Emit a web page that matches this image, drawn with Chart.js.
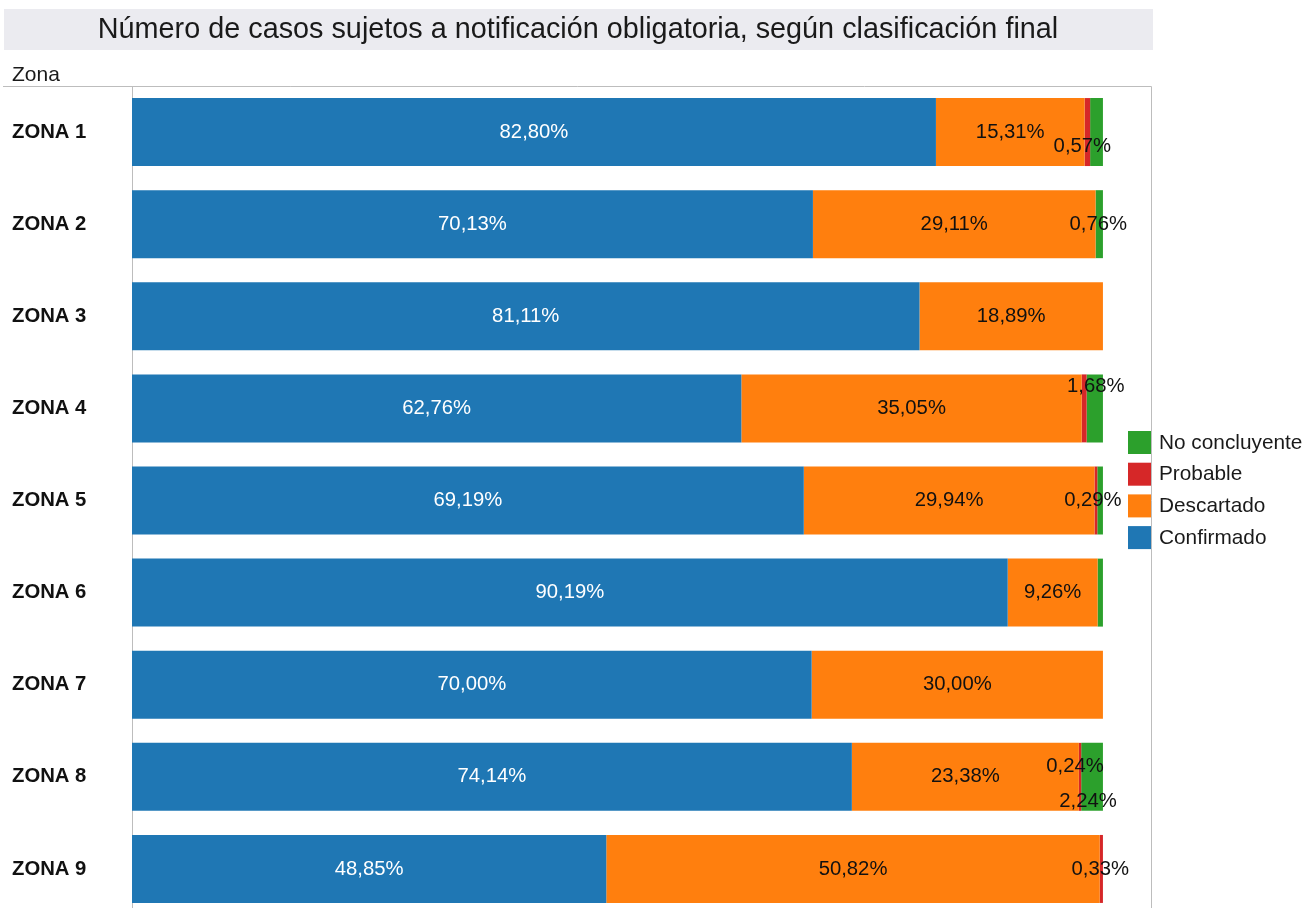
<!DOCTYPE html>
<html>
<head>
<meta charset="utf-8">
<script src="https://cdn.jsdelivr.net/npm/chart.js@4"></script>
<style>
  html, body { margin: 0; padding: 0; background: #fff; overflow: hidden; }
  #wrap { width: 1304px; height: 908px; position: relative; overflow: hidden; }
  #zonas { display: block; }
</style>
</head>
<body>
<div id="wrap"><canvas id="zonas" width="1304" height="915"></canvas></div>
<script>
const zonas = ['ZONA 1', 'ZONA 2', 'ZONA 3', 'ZONA 4', 'ZONA 5', 'ZONA 6', 'ZONA 7', 'ZONA 8', 'ZONA 9'];

const confirmado     = [82.80, 70.13, 81.11, 62.76, 69.19, 90.19, 70.00, 74.14, 48.85];
const descartado     = [15.31, 29.11, 18.89, 35.05, 29.94,  9.26, 30.00, 23.38, 50.82];
const probable       = [ 0.57,  0,     0,     0.51,  0.29,  0,     0,     0.24,  0.33];
const noConcluyente  = [ 1.32,  0.76,  0,     1.68,  0.58,  0.55,  0,     2.24,  0   ];

const titulo = 'Número de casos sujetos a notificación obligatoria, según clasificación final';

// where tableau put the labels of the small segments: [dataset, zona, dx, dy]
const smallLabels = [
  [2, 0, -5, 14],
  [3, 1, -1, 0],
  [3, 3, 1, -22],
  [2, 4, -3, 0],
  [2, 7, -5, -10],
  [3, 7, -4, 25],
  [2, 8, -1, 0]
];

const FONT = '"Liberation Sans", Arial, sans-serif';

function fmt(v) {
  return v.toFixed(2).replace('.', ',') + '%';
}

const decor = {
  id: 'decor',
  beforeDraw(chart) {
    const ctx = chart.ctx;
    const a = chart.chartArea;
    ctx.save();
    // title box
    ctx.fillStyle = '#ebebf0';
    ctx.fillRect(4, 9, 1149, 41);
    ctx.fillStyle = '#1a1a1a';
    ctx.font = '28.8px ' + FONT;
    ctx.textAlign = 'center';
    ctx.textBaseline = 'middle';
    ctx.fillText(titulo, 578, 30);
    // "Zona" header
    ctx.textAlign = 'left';
    ctx.font = '21px ' + FONT;
    ctx.fillStyle = '#1a1a1a';
    ctx.fillText('Zona', 12, 75);
    // frame
    ctx.strokeStyle = '#bdbdbd';
    ctx.lineWidth = 1;
    ctx.beginPath();
    ctx.moveTo(3, a.top + 0.5);
    ctx.lineTo(a.right + 0.5, a.top + 0.5);
    ctx.lineTo(a.right + 0.5, a.bottom);
    ctx.moveTo(a.left + 0.5, a.top);
    ctx.lineTo(a.left + 0.5, a.bottom);
    ctx.stroke();
    ctx.restore();
  },
  afterDatasetsDraw(chart) {
    const ctx = chart.ctx;
    ctx.save();
    ctx.font = '20.3px ' + FONT;
    ctx.textAlign = 'center';
    ctx.textBaseline = 'middle';
    // big segments
    chart.data.datasets.forEach((ds, di) => {
      const meta = chart.getDatasetMeta(di);
      ds.data.forEach((v, i) => {
        if (v < 3) return;
        const bar = meta.data[i];
        ctx.fillStyle = di === 0 ? '#ffffff' : '#111111';
        ctx.fillText(fmt(v), (bar.x + bar.base) / 2, bar.y);
      });
    });
    // small ones
    ctx.fillStyle = '#111111';
    smallLabels.forEach(([di, i, dx, dy]) => {
      const bar = chart.getDatasetMeta(di).data[i];
      const v = chart.data.datasets[di].data[i];
      ctx.fillText(fmt(v), (bar.x + bar.base) / 2 + dx, bar.y + dy);
    });
    // legend
    const items = [3, 2, 1, 0];
    ctx.textAlign = 'left';
    ctx.font = '20.8px ' + FONT;
    items.forEach((di, k) => {
      const y = 431 + k * 31.7;
      ctx.fillStyle = chart.data.datasets[di].backgroundColor;
      ctx.fillRect(1128, y, 23, 23);
      ctx.fillStyle = '#1a1a1a';
      ctx.fillText(chart.data.datasets[di].label, 1159, y + 12);
    });
    ctx.restore();
  }
};

const config = {
  type: 'bar',
  data: {
    labels: zonas,
    datasets: [
      { label: 'Confirmado', data: confirmado, backgroundColor: '#1f77b4' },
      { label: 'Descartado', data: descartado, backgroundColor: '#ff7f0e' },
      { label: 'Probable', data: probable, backgroundColor: '#d62728' },
      { label: 'No concluyente', data: noConcluyente, backgroundColor: '#2ca02c' }
    ]
  },
  options: {
    indexAxis: 'y',
    responsive: false,
    animation: false,
    barPercentage: 0.738,
    categoryPercentage: 1,
    layout: { padding: { left: 12, right: 153, top: 86, bottom: 0 } },
    plugins: {
      legend: { display: false },
      tooltip: { enabled: false },
      title: { display: false }
    },
    scales: {
      x: {
        stacked: true,
        min: 0,
        max: 104.95,
        display: false
      },
      y: {
        stacked: true,
        grid: { display: false },
        border: { display: false },
        afterFit(scale) {
          scale.width = 120;
          scale.paddingTop = 0;
          scale.paddingBottom = 0;
        },
        ticks: {
          crossAlign: 'far',
          padding: 0,
          color: '#111',
          font: { family: FONT, size: 20.3, weight: 'bold' }
        }
      }
    }
  },
  plugins: [decor]
};

var zonaChart = new Chart(document.getElementById('zonas'), config);
</script>
</body>
</html>
